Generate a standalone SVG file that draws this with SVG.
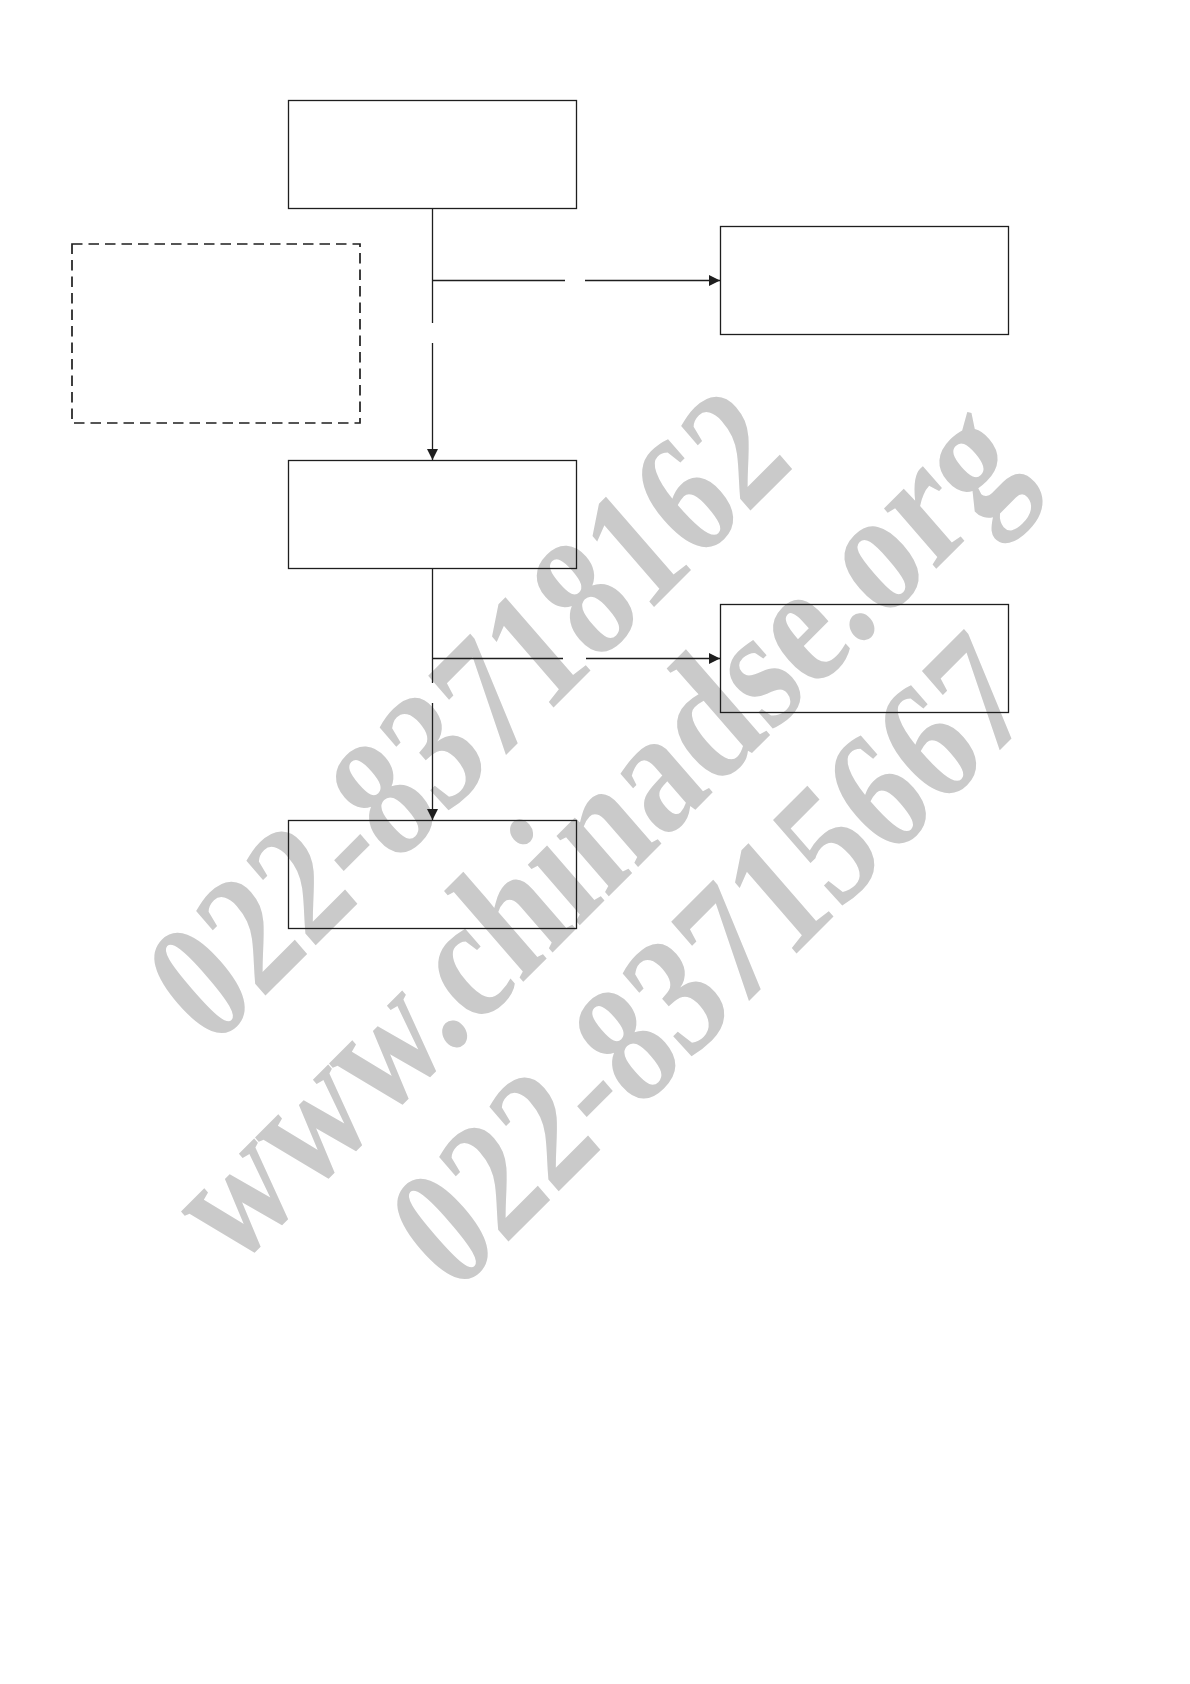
<svg xmlns="http://www.w3.org/2000/svg" width="1190" height="1684" viewBox="0 0 1190 1684">
  <defs>
    <style>
      .box { fill: none; stroke: #1e1e1e; stroke-width: 1.3; }
      .dash { fill: none; stroke: #1e1e1e; stroke-width: 1.7; stroke-dasharray: 10.5 6; }
      .line { fill: none; stroke: #1e1e1e; stroke-width: 1.3; }
      .wm { font-family: "Liberation Serif", "Times New Roman", serif; font-weight: bold; font-size: 142px; fill: #cacaca; }
    </style>
    <marker id="arrow" viewBox="0 0 11 11" refX="11" refY="5.5" markerWidth="11" markerHeight="11" markerUnits="userSpaceOnUse" orient="auto">
      <path d="M0,0 L11,5.5 L0,11 Z" fill="#1e1e1e"/>
    </marker>
  </defs>
  <rect width="1190" height="1684" fill="#ffffff"/>

  <g id="watermark">
    <text class="wm" transform="matrix(0.707,-0.707,0.785,0.904,211,1050)">022-83718162</text>
    <text class="wm" transform="matrix(0.707,-0.707,0.785,0.904,233,1272)" style="font-size:145px">www.chinadse.org</text>
    <text class="wm" transform="matrix(0.707,-0.707,0.785,0.904,454,1296)">022-83715667</text>
  </g>

  <g id="connectors">
    <line class="line" x1="432.5" y1="208" x2="432.5" y2="323"/>
    <line class="line" x1="432.5" y1="343" x2="432.5" y2="460" marker-end="url(#arrow)"/>
    <line class="line" x1="432.5" y1="280.5" x2="565" y2="280.5"/>
    <line class="line" x1="585" y1="280.5" x2="720" y2="280.5" marker-end="url(#arrow)"/>
    <line class="line" x1="432.5" y1="568" x2="432.5" y2="683"/>
    <line class="line" x1="432.5" y1="703" x2="432.5" y2="820" marker-end="url(#arrow)"/>
    <line class="line" x1="432.5" y1="658.5" x2="563" y2="658.5"/>
    <line class="line" x1="586" y1="658.5" x2="720" y2="658.5" marker-end="url(#arrow)"/>
  </g>

  <g id="node-top">
    <rect class="box" x="288.5" y="100.5" width="288" height="108"/>
  </g>
  <g id="node-dashed">
    <rect class="dash" x="72" y="244" width="288" height="179"/>
  </g>
  <g id="node-right-1">
    <rect class="box" x="720.5" y="226.5" width="288" height="108"/>
  </g>
  <g id="node-middle">
    <rect class="box" x="288.5" y="460.5" width="288" height="108"/>
  </g>
  <g id="node-right-2">
    <rect class="box" x="720.5" y="604.5" width="288" height="108"/>
  </g>
  <g id="node-bottom">
    <rect class="box" x="288.5" y="820.5" width="288" height="108"/>
  </g>
</svg>
